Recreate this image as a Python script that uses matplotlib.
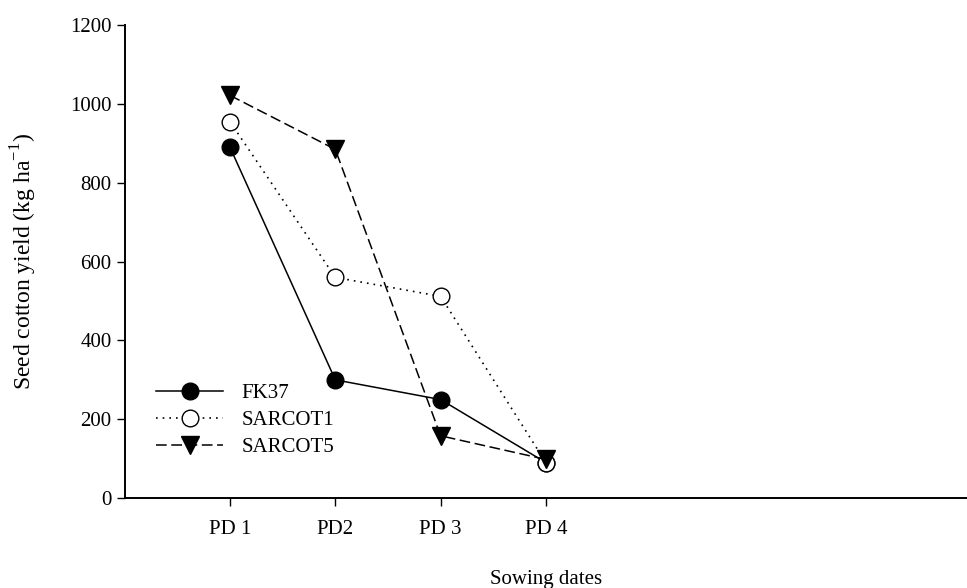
import matplotlib.pyplot as plt

plt.rcParams['font.family'] = ['Liberation Serif', 'DejaVu Serif']

dates = ["PD 1", "PD2", "PD 3", "PD 4"]
fk37 = [890, 300, 250, 90]
sarcot1 = [955, 560, 512, 90]
sarcot5 = [1022, 885, 158, 98]

xs = [1, 2, 3, 4]

fig = plt.figure(figsize=(9.67, 5.88), dpi=100)
ax = fig.add_axes([0.129, 0.153, 0.871, 0.804])

ax.plot(xs, fk37, color='black', marker='o', markersize=12, linestyle='solid',
        linewidth=1.1, label='FK37')
ax.plot(xs, sarcot1, color='black', marker='o', markersize=12, markerfacecolor='white',
        linestyle=(0, (1, 3)), linewidth=1.2, label='SARCOT1')
ax.plot(xs, sarcot5, color='black', marker='v', markersize=13, linestyle=(0, (7, 3)),
        linewidth=1.1, label='SARCOT5')

ax.set_xlim(0, 8)
ax.set_ylim(0, 1200)
ax.set_xticks(xs)
ax.set_xticklabels(dates)
ax.set_yticks(range(0, 1201, 200))

ax.spines['top'].set_visible(False)
ax.spines['right'].set_visible(False)
ax.spines['left'].set_linewidth(1.4)
ax.spines['bottom'].set_linewidth(1.4)
ax.tick_params(axis='both', labelsize=15, length=6, width=1)
ax.tick_params(axis='x', pad=10)

ax.set_xlabel("Sowing dates", fontsize=15, labelpad=22)
ax.set_ylabel("Seed cotton yield (kg ha$^{\\mathregular{-1}}$)", fontsize=17, labelpad=22)

ax.legend(loc='lower left', bbox_to_anchor=(0.025, 0.065), frameon=False, fontsize=15,
          handlelength=3.2, handletextpad=0.9, labelspacing=0.35, borderpad=0)

fig.savefig("out.png", dpi=100)
